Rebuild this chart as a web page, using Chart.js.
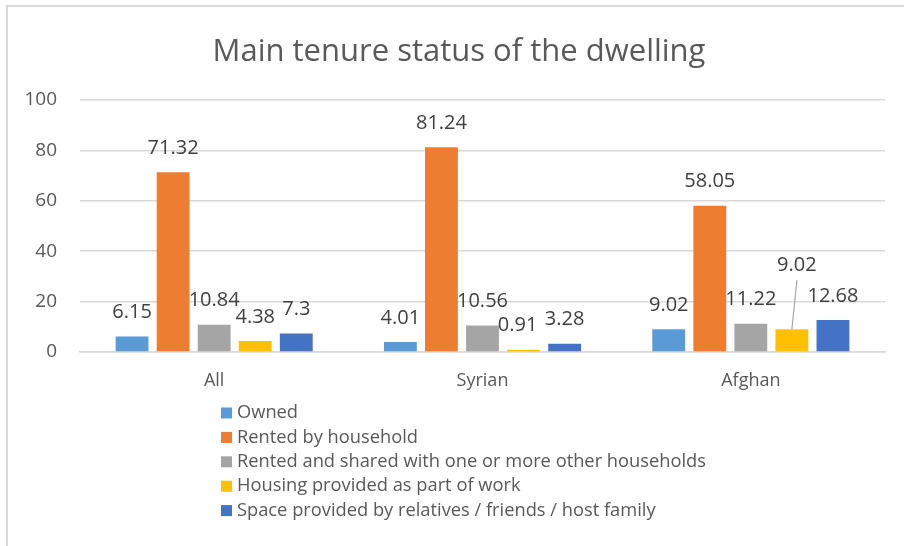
<!DOCTYPE html>
<html>
<head>
<meta charset="utf-8">
<script src="https://cdn.jsdelivr.net/npm/chart.js@4"></script>
<style>
  html, body { margin: 0; padding: 0; background: #fff; }
  #wrap {
    position: absolute; left: 6px; top: 5px;
    width: 898px; height: 541px;
    border-left: 2px solid #d9d9d9; border-top: 2px solid #d9d9d9;
  }
</style>
</head>
<body>
<div id="wrap"><canvas id="chart"></canvas></div>
<script>
// Kategoriler ve seriler
const chartTitle = 'Main tenure status of the dwelling';
const categories = ['All', 'Syrian', 'Afghan'];
const seriesNames = [
    'Owned',
    'Rented by household',
    'Rented and shared with one or more other households',
    'Housing provided as part of work',
    'Space provided by relatives / friends / host family'
];
const owned = [6.15, 4.01, 9.02];
const rentedByHousehold = [71.32, 81.24, 58.05];
const rentedShared = [10.84, 10.56, 11.22];
const housingWork = [4.38, 0.91, 9.02];
const spaceRelatives = [7.3, 3.28, 12.68];
const yTicks = [0, 20, 40, 60, 80, 100];

const COLORS = ['#5B9BD5', '#ED7D31', '#A5A5A5', '#FFC000', '#4472C4'];
const FONT = '"Open Sans", Lato, sans-serif';

const allSeries = [owned, rentedByHousehold, rentedShared, housingWork, spaceRelatives];

// Başlık: tüm tuvalin ortasına göre
const titlePlugin = {
    id: 'titlePlugin',
    afterDraw(chart) {
        const { ctx } = chart;
        ctx.save();
        ctx.font = '31px ' + FONT;
        ctx.fillStyle = '#595959';
        ctx.textAlign = 'center';
        ctx.textBaseline = 'middle';
        ctx.fillText(chartTitle, 451, 45);
        ctx.restore();
    }
};

// Veri etiketleri (datalabels eklentisi yok, elle çiziliyor)
const valueLabels = {
    id: 'valueLabels',
    afterDatasetsDraw(chart) {
        const { ctx } = chart;
        ctx.save();
        ctx.font = '20px ' + FONT;
        ctx.fillStyle = '#404040';
        ctx.textAlign = 'center';
        ctx.textBaseline = 'middle';
        chart.data.datasets.forEach((ds, di) => {
            const meta = chart.getDatasetMeta(di);
            meta.data.forEach((bar, i) => {
                let x = bar.x, y = bar.y - 24;
                // Afghan / iş yeri etiketi yukarı taşınmış, kılavuz çizgili
                if (di === 3 && i === 2) {
                    x = bar.x + 5; y = bar.y - 64;
                    ctx.strokeStyle = '#a6a6a6';
                    ctx.lineWidth = 1.2;
                    ctx.beginPath();
                    ctx.moveTo(bar.x + 5, bar.y - 49);
                    ctx.lineTo(bar.x, bar.y);
                    ctx.stroke();
                }
                if (di === 3 && i === 1) x -= 6;
                ctx.fillText(String(ds.data[i]), x, y);
            });
        });
        ctx.restore();
    }
};

// Dikey lejant (alt kısım)
const stackedLegend = {
    id: 'stackedLegend',
    afterDraw(chart) {
        const { ctx } = chart;
        ctx.save();
        ctx.font = '18.3px ' + FONT;
        ctx.textBaseline = 'middle';
        ctx.textAlign = 'left';
        chart.data.datasets.forEach((ds, i) => {
            const y = 406 + i * 24.4;
            ctx.fillStyle = ds.backgroundColor;
            ctx.fillRect(213, y - 5.5, 11, 11);
            ctx.fillStyle = '#595959';
            ctx.fillText(ds.label, 229, y);
        });
        ctx.restore();
    }
};

new Chart(document.getElementById('chart'), {
    type: 'bar',
    data: {
        labels: categories,
        datasets: allSeries.map((data, i) => ({
            label: seriesNames[i],
            data,
            backgroundColor: COLORS[i],
            barPercentage: 0.8,
            categoryPercentage: 0.765
        }))
    },
    options: {
        responsive: true,
        maintainAspectRatio: false,
        animation: false,
        layout: { padding: { left: 0, right: 21, top: 93, bottom: 156 } },
        plugins: {
            legend: { display: false },
            tooltip: { enabled: false },
            title: { display: false }
        },
        scales: {
            x: {
                grid: { display: false, drawTicks: false },
                border: { display: true, color: '#d9d9d9', width: 1.5 },
                ticks: { color: '#595959', font: { family: FONT, size: 18 }, padding: 18 },
                afterFit: s => { s.height = 40; }
            },
            y: {
                min: 0,
                max: 100,
                afterBuildTicks: s => { s.ticks = yTicks.map(v => ({ value: v })); },
                grid: { color: '#d9d9d9', lineWidth: 1.5, drawTicks: false },
                border: { display: false },
                ticks: { color: '#595959', font: { family: FONT, size: 19 }, padding: 23 },
                afterFit: s => { s.width = 72; }
            }
        }
    },
    plugins: [titlePlugin, valueLabels, stackedLegend]
});
</script>
</body>
</html>
